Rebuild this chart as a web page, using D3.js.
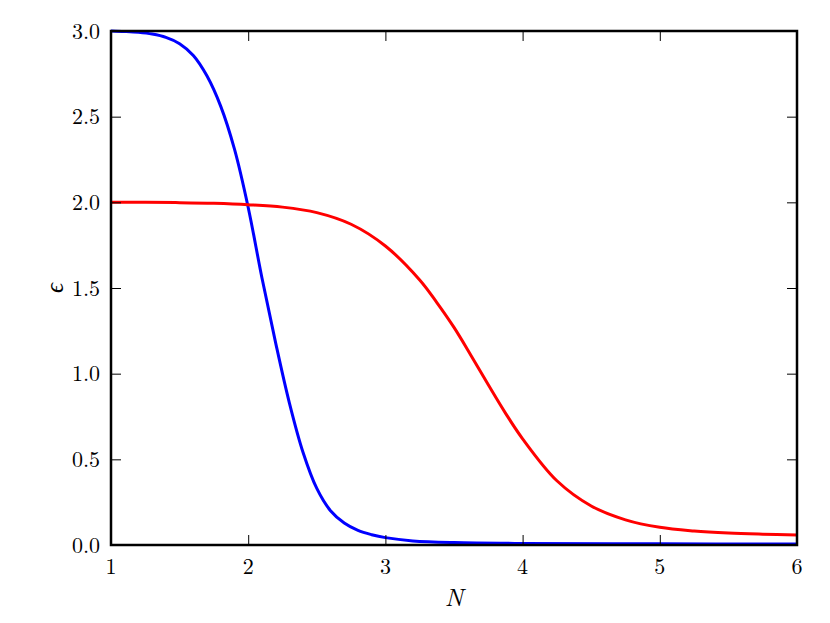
<!DOCTYPE html>
<html>
<head>
<meta charset="utf-8">
<script src="https://cdn.jsdelivr.net/npm/d3@7"></script>
<style>
  html, body { margin: 0; padding: 0; background: #fff; }
  svg { display: block; }
</style>
</head>
<body>
<div id="chart"></div>
<script>
// ---- data ----
const blueN   = [1.0, 1.1, 1.2, 1.3, 1.4, 1.5, 1.6, 1.7, 1.8, 1.9, 2.0, 2.1, 2.2, 2.3, 2.4, 2.5, 2.6, 2.7, 2.8, 2.9, 3.0, 3.2, 3.5, 4.0, 5.0, 6.0];
const blueEps = [3.0, 2.997, 2.992, 2.982, 2.963, 2.926, 2.857, 2.737, 2.56, 2.31, 1.97, 1.56, 1.18, 0.83, 0.54, 0.33, 0.20, 0.128, 0.085, 0.06, 0.043, 0.024, 0.014, 0.009, 0.007, 0.006];

const redN   = [1.0, 1.25, 1.5, 1.75, 2.0, 2.25, 2.5, 2.75, 3.0, 3.25, 3.375, 3.5, 3.625, 3.75, 3.875, 4.0, 4.25, 4.5, 4.75, 5.0, 5.25, 5.5, 5.75, 6.0];
const redEps = [2.0, 2.0, 1.998, 1.994, 1.986, 1.972, 1.94, 1.872, 1.745, 1.547, 1.415, 1.27, 1.105, 0.935, 0.77, 0.62, 0.375, 0.228, 0.147, 0.103, 0.082, 0.07, 0.063, 0.058];

const xTicks = [1, 2, 3, 4, 5, 6];
const yTicks = [0.0, 0.5, 1.0, 1.5, 2.0, 2.5, 3.0];
const xLabel = "N";
const yLabel = "\u03F5";

// ---- pick an installed serif font ----
function pickFont(cands) {
  const c = document.createElement("canvas").getContext("2d");
  const s = "0.123456789 NNmmwwii\u03F5";
  const bases = ["monospace", "sans-serif"];
  for (const f of cands) {
    let found = false;
    for (const b of bases) {
      c.font = `40px ${b}`; const w0 = c.measureText(s).width;
      c.font = `40px '${f}', ${b}`; const w1 = c.measureText(s).width;
      if (Math.abs(w0 - w1) > 0.5) { found = true; break; }
    }
    if (found) return `'${f}', serif`;
  }
  return "serif";
}
const FONT = pickFont(["Latin Modern Roman", "CMU Serif", "Liberation Serif", "Times New Roman", "Tinos",
  "DejaVu Serif", "Noto Serif", "FreeSerif", "Nimbus Roman", "Nimbus Roman No9 L", "Times", "STIX Two Text", "Georgia"]);

// ---- layout ----
const W = 830, H = 623;
const mLeft = 111, mRight = 797, mTop = 31, mBottom = 545;

const svg = d3.select("#chart").append("svg").attr("width", W).attr("height", H)
  .attr("font-family", FONT);

const x = d3.scaleLinear().domain([1, 6]).range([mLeft, mRight]);
const y = d3.scaleLinear().domain([0, 3]).range([mBottom, mTop]);

svg.append("defs").append("clipPath").attr("id", "clip")
  .append("rect").attr("x", mLeft).attr("y", mTop - 2).attr("width", mRight - mLeft).attr("height", mBottom - mTop + 2);

const line = d3.line().x(d => x(d[0])).y(d => y(d[1])).curve(d3.curveCatmullRom.alpha(0.5));

const g = svg.append("g").attr("clip-path", "url(#clip)");
g.append("path").datum(blueN.map((n, i) => [n, blueEps[i]]))
  .attr("d", line).attr("fill", "none").attr("stroke", "#0000ff").attr("stroke-width", 3);
g.append("path").datum(redN.map((n, i) => [n, redEps[i]]))
  .attr("d", line).attr("fill", "none").attr("stroke", "#ff0000").attr("stroke-width", 3);

// ticks (inside, on all four sides)
const tickLen = 10;
const axB = svg.append("g").attr("transform", `translate(0,${mBottom})`)
  .call(d3.axisTop(x).tickValues(xTicks).tickSize(tickLen).tickFormat(""));
const axT = svg.append("g").attr("transform", `translate(0,${mTop})`)
  .call(d3.axisBottom(x).tickValues(xTicks).tickSize(tickLen).tickFormat(""));
const axL = svg.append("g").attr("transform", `translate(${mLeft},0)`)
  .call(d3.axisRight(y).tickValues(yTicks).tickSize(tickLen).tickFormat(""));
const axR = svg.append("g").attr("transform", `translate(${mRight},0)`)
  .call(d3.axisLeft(y).tickValues(yTicks).tickSize(tickLen).tickFormat(""));
[axB, axT, axL, axR].forEach(a => {
  a.select(".domain").remove();
  a.selectAll(".tick line").attr("stroke", "#000").attr("stroke-width", 1);
});

// tick labels
svg.append("g").selectAll("text").data(xTicks).join("text")
  .attr("x", d => x(d)).attr("y", 574)
  .attr("text-anchor", "middle").attr("font-size", 22).attr("font-family", FONT).attr("fill", "#000")
  .text(d => d3.format("d")(d));
svg.append("g").selectAll("text").data(yTicks).join("text")
  .attr("x", 100).attr("y", d => y(d) + 7.5)
  .attr("text-anchor", "end").attr("font-size", 22).attr("font-family", FONT).attr("fill", "#000")
  .text(d => d3.format(".1f")(d));

// frame
svg.append("rect").attr("x", mLeft).attr("y", mTop).attr("width", mRight - mLeft).attr("height", mBottom - mTop)
  .attr("fill", "none").attr("stroke", "#000").attr("stroke-width", 2.5);

// axis labels
svg.append("text").attr("x", (mLeft + mRight) / 2).attr("y", 606)
  .attr("text-anchor", "middle").attr("font-size", 25).attr("font-style", "italic")
  .attr("font-family", FONT).attr("fill", "#000").text(xLabel);
svg.append("text").attr("transform", `translate(63,${(mTop + mBottom) / 2}) rotate(-90)`)
  .attr("text-anchor", "middle").attr("font-size", 25).attr("font-style", "italic")
  .attr("font-family", FONT).attr("fill", "#000").text(yLabel);
</script>
</body>
</html>
